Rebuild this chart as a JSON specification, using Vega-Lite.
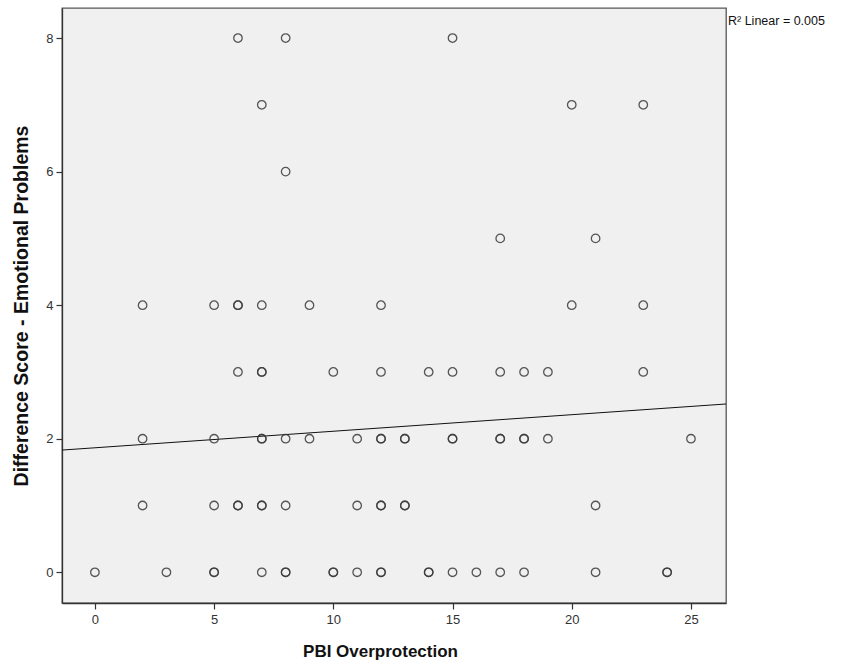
{
  "$schema": "https://vega.github.io/schema/vega-lite/v6.json",
  "width": 664,
  "height": 595,
  "autosize": {"type": "none"},
  "padding": {"left": 62, "top": 8, "right": 120, "bottom": 68},
  "background": "white",
  "config": {
    "view": {"fill": "#f0f0f0", "stroke": "#555555", "strokeWidth": 1.3},
    "axis": {
      "grid": false,
      "labelFont": "Liberation Sans Narrow, Liberation Sans, Arial",
      "labelFontSize": 13,
      "labelColor": "#333333",
      "titleFont": "Liberation Sans Narrow, Liberation Sans, Arial",
      "titleFontSize": 17,
      "titleFontWeight": "bold",
      "titleColor": "#111111",
      "domainColor": "#333333",
      "domainWidth": 1.3,
      "tickColor": "#333333",
      "tickSize": 6,
      "tickWidth": 1.2
    }
  },
  "datasets": {
    "points": [
      {"pbi": 6, "diff": 8}, {"pbi": 8, "diff": 8}, {"pbi": 15, "diff": 8},
      {"pbi": 7, "diff": 7}, {"pbi": 20, "diff": 7}, {"pbi": 23, "diff": 7},
      {"pbi": 8, "diff": 6},
      {"pbi": 17, "diff": 5}, {"pbi": 21, "diff": 5},
      {"pbi": 2, "diff": 4}, {"pbi": 5, "diff": 4}, {"pbi": 6, "diff": 4}, {"pbi": 6, "diff": 4}, {"pbi": 7, "diff": 4}, {"pbi": 9, "diff": 4}, {"pbi": 12, "diff": 4}, {"pbi": 20, "diff": 4}, {"pbi": 23, "diff": 4},
      {"pbi": 6, "diff": 3}, {"pbi": 7, "diff": 3}, {"pbi": 7, "diff": 3}, {"pbi": 10, "diff": 3}, {"pbi": 12, "diff": 3}, {"pbi": 14, "diff": 3}, {"pbi": 15, "diff": 3}, {"pbi": 17, "diff": 3}, {"pbi": 18, "diff": 3}, {"pbi": 19, "diff": 3}, {"pbi": 23, "diff": 3},
      {"pbi": 2, "diff": 2}, {"pbi": 5, "diff": 2}, {"pbi": 7, "diff": 2}, {"pbi": 7, "diff": 2}, {"pbi": 8, "diff": 2}, {"pbi": 9, "diff": 2}, {"pbi": 11, "diff": 2}, {"pbi": 12, "diff": 2}, {"pbi": 12, "diff": 2}, {"pbi": 13, "diff": 2}, {"pbi": 13, "diff": 2}, {"pbi": 15, "diff": 2}, {"pbi": 15, "diff": 2}, {"pbi": 17, "diff": 2}, {"pbi": 17, "diff": 2}, {"pbi": 18, "diff": 2}, {"pbi": 18, "diff": 2}, {"pbi": 19, "diff": 2}, {"pbi": 25, "diff": 2},
      {"pbi": 2, "diff": 1}, {"pbi": 5, "diff": 1}, {"pbi": 6, "diff": 1}, {"pbi": 6, "diff": 1}, {"pbi": 7, "diff": 1}, {"pbi": 7, "diff": 1}, {"pbi": 8, "diff": 1}, {"pbi": 11, "diff": 1}, {"pbi": 12, "diff": 1}, {"pbi": 12, "diff": 1}, {"pbi": 13, "diff": 1}, {"pbi": 13, "diff": 1}, {"pbi": 21, "diff": 1},
      {"pbi": 0, "diff": 0}, {"pbi": 3, "diff": 0}, {"pbi": 5, "diff": 0}, {"pbi": 5, "diff": 0}, {"pbi": 7, "diff": 0}, {"pbi": 8, "diff": 0}, {"pbi": 8, "diff": 0}, {"pbi": 10, "diff": 0}, {"pbi": 10, "diff": 0}, {"pbi": 11, "diff": 0}, {"pbi": 12, "diff": 0}, {"pbi": 12, "diff": 0}, {"pbi": 14, "diff": 0}, {"pbi": 14, "diff": 0}, {"pbi": 15, "diff": 0}, {"pbi": 16, "diff": 0}, {"pbi": 17, "diff": 0}, {"pbi": 18, "diff": 0}, {"pbi": 21, "diff": 0}, {"pbi": 24, "diff": 0}, {"pbi": 24, "diff": 0}
    ],
    "fit": [
      {"pbi": -1.38, "diff": 1.83},
      {"pbi": 26.47, "diff": 2.52}
    ],
    "note": [
      {"label": "R² Linear = 0.005", "pbi": 26.47, "diff": 8.45}
    ]
  },
  "layer": [
    {
      "data": {"name": "fit"},
      "mark": {"type": "line", "color": "#111111", "strokeWidth": 1, "clip": true},
      "encoding": {
        "x": {"field": "pbi", "type": "quantitative", "scale": {"domain": [-1.38, 26.47], "nice": false, "zero": false},
              "axis": {"values": [0, 5, 10, 15, 20, 25], "format": "d", "title": "PBI Overprotection", "titlePadding": 17, "labelPadding": 4, "titleX": 318}},
        "y": {"field": "diff", "type": "quantitative", "scale": {"domain": [-0.46, 8.45], "nice": false, "zero": false},
              "axis": {"values": [0, 2, 4, 6, 8], "format": "d", "title": "Difference Score - Emotional Problems", "titleFontSize": 19.5, "titlePadding": 14, "labelPadding": 3}}
      }
    },
    {
      "data": {"name": "points"},
      "mark": {"type": "point", "shape": "circle", "filled": false, "size": 72, "stroke": "#3a3a3a", "strokeWidth": 1.3, "opacity": 0.85},
      "encoding": {
        "x": {"field": "pbi", "type": "quantitative"},
        "y": {"field": "diff", "type": "quantitative"}
      }
    },
    {
      "data": {"name": "note"},
      "mark": {"type": "text", "align": "left", "baseline": "middle", "dx": 2, "dy": 13, "font": "Liberation Sans, Arial", "fontSize": 12.5, "color": "#111111", "clip": false},
      "encoding": {
        "x": {"field": "pbi", "type": "quantitative"},
        "y": {"field": "diff", "type": "quantitative"},
        "text": {"field": "label"}
      }
    }
  ]
}
